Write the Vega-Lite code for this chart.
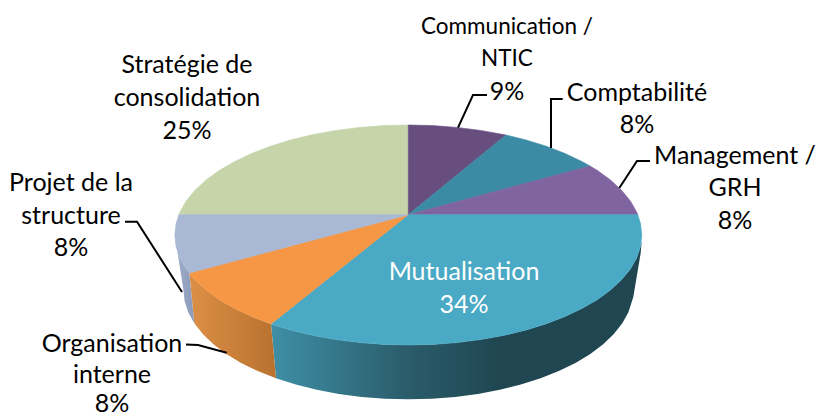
{
"$schema":"https://vega.github.io/schema/vega-lite/v6.json",
"width":817,"height":416,"padding":0,"autosize":{"type":"none"},
"background":"white",
"config":{"view":{"stroke":null},"font":"Lato"},
"datasets":{
"outline":[
{"p":"wallTeal","x":271,"y":324},{"p":"wallTeal","x":291.5,"y":330.3},{"p":"wallTeal","x":313.3,"y":335.5},{"p":"wallTeal","x":336.1,"y":339.6},{"p":"wallTeal","x":359.8,"y":342.6},{"p":"wallTeal","x":383.9,"y":344.4},{"p":"wallTeal","x":408.3,"y":345},{"p":"wallTeal","x":432.7,"y":344.4},{"p":"wallTeal","x":456.8,"y":342.6},{"p":"wallTeal","x":480.5,"y":339.6},{"p":"wallTeal","x":503.3,"y":335.5},{"p":"wallTeal","x":525.1,"y":330.3},{"p":"wallTeal","x":545.6,"y":324},{"p":"wallTeal","x":564.5,"y":316.7},{"p":"wallTeal","x":581.8,"y":308.6},{"p":"wallTeal","x":597.2,"y":299.7},{"p":"wallTeal","x":610.5,"y":290},{"p":"wallTeal","x":621.6,"y":279.7},{"p":"wallTeal","x":630.4,"y":269},{"p":"wallTeal","x":636.7,"y":257.9},{"p":"wallTeal","x":640.5,"y":246.5},{"p":"wallTeal","x":641.8,"y":240},{"p":"wallTeal","x":640.7,"y":253},{"p":"wallTeal","x":633.3,"y":297},{"p":"wallTeal","x":628.4,"y":312.2},{"p":"wallTeal","x":622.3,"y":323.3},{"p":"wallTeal","x":613.8,"y":334},{"p":"wallTeal","x":603.2,"y":344.3},{"p":"wallTeal","x":590.3,"y":354},{"p":"wallTeal","x":575.5,"y":362.9},{"p":"wallTeal","x":558.8,"y":371},{"p":"wallTeal","x":540.6,"y":378.3},{"p":"wallTeal","x":520.8,"y":384.6},{"p":"wallTeal","x":499.8,"y":389.8},{"p":"wallTeal","x":477.8,"y":393.9},{"p":"wallTeal","x":455.1,"y":396.9},{"p":"wallTeal","x":431.8,"y":398.7},{"p":"wallTeal","x":408.3,"y":399.3},{"p":"wallTeal","x":384.8,"y":398.7},{"p":"wallTeal","x":361.5,"y":396.9},{"p":"wallTeal","x":338.8,"y":393.9},{"p":"wallTeal","x":316.8,"y":389.8},{"p":"wallTeal","x":295.8,"y":384.6},{"p":"wallTeal","x":276,"y":378.3},{"p":"wallTeal","x":271,"y":324},
{"p":"wallOrange","x":189.3,"y":273},{"p":"wallOrange","x":195,"y":279.7},{"p":"wallOrange","x":206.1,"y":290},{"p":"wallOrange","x":219.4,"y":299.7},{"p":"wallOrange","x":234.8,"y":308.6},{"p":"wallOrange","x":252.1,"y":316.7},{"p":"wallOrange","x":271,"y":324},{"p":"wallOrange","x":276,"y":378.3},{"p":"wallOrange","x":257.8,"y":371},{"p":"wallOrange","x":241.1,"y":362.9},{"p":"wallOrange","x":226.3,"y":354},{"p":"wallOrange","x":213.4,"y":344.3},{"p":"wallOrange","x":202.8,"y":334},{"p":"wallOrange","x":194.3,"y":323.3},{"p":"wallOrange","x":189.3,"y":273},
{"p":"wallBlue","x":174.8,"y":235},{"p":"wallBlue","x":176.1,"y":246.5},{"p":"wallBlue","x":179.9,"y":257.9},{"p":"wallBlue","x":186.2,"y":269},{"p":"wallBlue","x":189.3,"y":273},{"p":"wallBlue","x":194.3,"y":323.3},{"p":"wallBlue","x":188.2,"y":312.2},{"p":"wallBlue","x":184.5,"y":300.8},{"p":"wallBlue","x":183.3,"y":289.3},{"p":"wallBlue","x":174.8,"y":235},
{"p":"Stratégie de consolidation","x":408.3,"y":214.7},{"p":"Stratégie de consolidation","x":178.9,"y":214.7},{"p":"Stratégie de consolidation","x":179.9,"y":212.1},{"p":"Stratégie de consolidation","x":186.2,"y":201},{"p":"Stratégie de consolidation","x":195,"y":190.3},{"p":"Stratégie de consolidation","x":206.1,"y":180},{"p":"Stratégie de consolidation","x":219.4,"y":170.3},{"p":"Stratégie de consolidation","x":234.8,"y":161.4},{"p":"Stratégie de consolidation","x":252.1,"y":153.3},{"p":"Stratégie de consolidation","x":271,"y":146},{"p":"Stratégie de consolidation","x":291.5,"y":139.7},{"p":"Stratégie de consolidation","x":313.3,"y":134.5},{"p":"Stratégie de consolidation","x":336.1,"y":130.4},{"p":"Stratégie de consolidation","x":359.8,"y":127.4},{"p":"Stratégie de consolidation","x":383.9,"y":125.6},{"p":"Stratégie de consolidation","x":408.3,"y":125},{"p":"Stratégie de consolidation","x":408.3,"y":214.7},
{"p":"Communication / NTIC","x":408.3,"y":214.7},{"p":"Communication / NTIC","x":408.3,"y":125},{"p":"Communication / NTIC","x":432.7,"y":125.6},{"p":"Communication / NTIC","x":456.8,"y":127.4},{"p":"Communication / NTIC","x":480.5,"y":130.4},{"p":"Communication / NTIC","x":506,"y":135},{"p":"Communication / NTIC","x":408.3,"y":214.7},
{"p":"Comptabilité","x":408.3,"y":214.7},{"p":"Comptabilité","x":506,"y":135},{"p":"Comptabilité","x":525.1,"y":139.7},{"p":"Comptabilité","x":545.6,"y":146},{"p":"Comptabilité","x":564.5,"y":153.3},{"p":"Comptabilité","x":581.8,"y":161.4},{"p":"Comptabilité","x":590,"y":166},{"p":"Comptabilité","x":408.3,"y":214.7},
{"p":"Management / GRH","x":408.3,"y":214.7},{"p":"Management / GRH","x":590,"y":166},{"p":"Management / GRH","x":597.2,"y":170.3},{"p":"Management / GRH","x":610.5,"y":180},{"p":"Management / GRH","x":621.6,"y":190.3},{"p":"Management / GRH","x":630.4,"y":201},{"p":"Management / GRH","x":636.7,"y":212.1},{"p":"Management / GRH","x":637.8,"y":214.7},{"p":"Management / GRH","x":408.3,"y":214.7},
{"p":"Mutualisation","x":408.3,"y":214.7},{"p":"Mutualisation","x":637.8,"y":214.7},{"p":"Mutualisation","x":640.5,"y":223.5},{"p":"Mutualisation","x":641.8,"y":235},{"p":"Mutualisation","x":640.5,"y":246.5},{"p":"Mutualisation","x":636.7,"y":257.9},{"p":"Mutualisation","x":630.4,"y":269},{"p":"Mutualisation","x":621.6,"y":279.7},{"p":"Mutualisation","x":610.5,"y":290},{"p":"Mutualisation","x":597.2,"y":299.7},{"p":"Mutualisation","x":581.8,"y":308.6},{"p":"Mutualisation","x":564.5,"y":316.7},{"p":"Mutualisation","x":545.6,"y":324},{"p":"Mutualisation","x":525.1,"y":330.3},{"p":"Mutualisation","x":503.3,"y":335.5},{"p":"Mutualisation","x":480.5,"y":339.6},{"p":"Mutualisation","x":456.8,"y":342.6},{"p":"Mutualisation","x":432.7,"y":344.4},{"p":"Mutualisation","x":408.3,"y":345},{"p":"Mutualisation","x":383.9,"y":344.4},{"p":"Mutualisation","x":359.8,"y":342.6},{"p":"Mutualisation","x":336.1,"y":339.6},{"p":"Mutualisation","x":313.3,"y":335.5},{"p":"Mutualisation","x":291.5,"y":330.3},{"p":"Mutualisation","x":271,"y":324},{"p":"Mutualisation","x":408.3,"y":214.7},
{"p":"Organisation interne","x":408.3,"y":214.7},{"p":"Organisation interne","x":271,"y":324},{"p":"Organisation interne","x":252.1,"y":316.7},{"p":"Organisation interne","x":234.8,"y":308.6},{"p":"Organisation interne","x":219.4,"y":299.7},{"p":"Organisation interne","x":206.1,"y":290},{"p":"Organisation interne","x":195,"y":279.7},{"p":"Organisation interne","x":189.3,"y":273},{"p":"Organisation interne","x":408.3,"y":214.7},
{"p":"Projet de la structure","x":408.3,"y":214.7},{"p":"Projet de la structure","x":189.3,"y":273},{"p":"Projet de la structure","x":186.2,"y":269},{"p":"Projet de la structure","x":179.9,"y":257.9},{"p":"Projet de la structure","x":176.1,"y":246.5},{"p":"Projet de la structure","x":174.8,"y":235},{"p":"Projet de la structure","x":176.1,"y":223.5},{"p":"Projet de la structure","x":178.9,"y":214.7},{"p":"Projet de la structure","x":408.3,"y":214.7}
],
"leaders":[
{"l":"comm","x":487,"y":95},{"l":"comm","x":473,"y":95},{"l":"comm","x":458,"y":127.7},
{"l":"compta","x":562.7,"y":99},{"l":"compta","x":551,"y":99},{"l":"compta","x":551,"y":148},
{"l":"mgmt","x":650,"y":161},{"l":"mgmt","x":637,"y":161},{"l":"mgmt","x":619.3,"y":188},
{"l":"projet","x":125,"y":221.7},{"l":"projet","x":137,"y":221.7},{"l":"projet","x":182,"y":292},
{"l":"orga","x":186,"y":344.5},{"l":"orga","x":198,"y":345},{"l":"orga","x":226.7,"y":352.7}
],
"labels":[
{"t":"Stratégie de","x":187,"y":65,"c":"k"},{"t":"consolidation","x":187,"y":98,"c":"k"},{"t":"25%","x":187,"y":131,"c":"k"},
{"t":"Communication /","x":507,"y":27,"c":"s"},{"t":"NTIC","x":507,"y":59,"c":"s"},{"t":"9%","x":507,"y":92,"c":"k"},
{"t":"Comptabilité","x":637,"y":93,"c":"k"},{"t":"8%","x":637,"y":125,"c":"k"},
{"t":"Management /","x":735,"y":156,"c":"k"},{"t":"GRH","x":735,"y":188,"c":"k"},{"t":"8%","x":735,"y":221,"c":"k"},
{"t":"Projet de la","x":71,"y":183,"c":"k"},{"t":"structure","x":71,"y":216,"c":"k"},{"t":"8%","x":71,"y":248,"c":"k"},
{"t":"Organisation","x":112,"y":344,"c":"k"},{"t":"interne","x":112,"y":375,"c":"k"},{"t":"8%","x":112,"y":403.5,"c":"k"},
{"t":"Mutualisation","x":464,"y":272,"c":"w"},{"t":"34%","x":464,"y":305,"c":"w"}
]
},
"encoding":{
"x":{"field":"x","type":"quantitative","scale":{"domain":[0,817],"nice":false,"zero":false},"axis":null},
"y":{"field":"y","type":"quantitative","scale":{"domain":[416,0],"nice":false,"zero":false},"axis":null}
},
"layer":[
{"data":{"name":"outline"},"transform":[{"filter":"datum.p==='wallTeal'"}],
 "mark":{"type":"line","interpolate":"linear","strokeWidth":0,"fill":{"gradient":"linear","x1":0,"y1":0,"x2":1,"y2":0,"stops":[{"offset":0,"color":"#3f8fa6"},{"offset":0.38,"color":"#2a5b69"},{"offset":0.62,"color":"#1f4651"},{"offset":1,"color":"#1f4651"}]}},
 "encoding":{"order":{"value":null}}},
{"data":{"name":"outline"},"transform":[{"filter":"datum.p==='wallOrange'"}],
 "mark":{"type":"line","interpolate":"linear","strokeWidth":0,"fill":{"gradient":"linear","x1":0,"y1":0,"x2":1,"y2":0,"stops":[{"offset":0,"color":"#dc8f46"},{"offset":1,"color":"#b8722f"}]}},
 "encoding":{"order":{"value":null}}},
{"data":{"name":"outline"},"transform":[{"filter":"datum.p==='wallBlue'"}],
 "mark":{"type":"line","interpolate":"linear","strokeWidth":0,"fill":{"gradient":"linear","x1":0,"y1":0,"x2":1,"y2":0,"stops":[{"offset":0,"color":"#a0aecb"},{"offset":1,"color":"#8b9ab8"}]}},
 "encoding":{"order":{"value":null}}},
{"data":{"name":"outline"},"transform":[{"filter":"indexof(datum.p,'wall')!==0"}],
 "mark":{"type":"line","interpolate":"linear","strokeWidth":0.6},
 "encoding":{"order":{"value":null},"detail":{"field":"p"},
  "fill":{"field":"p","type":"nominal","legend":null,"scale":{"domain":["Stratégie de consolidation","Communication / NTIC","Comptabilité","Management / GRH","Mutualisation","Organisation interne","Projet de la structure"],"range":["#c5d4a9","#674e7f","#3b8ba4","#8064a0","#4aa9c4","#f59745","#a8b8d5"]}},
  "stroke":{"field":"p","type":"nominal","legend":null,"scale":{"domain":["Stratégie de consolidation","Communication / NTIC","Comptabilité","Management / GRH","Mutualisation","Organisation interne","Projet de la structure"],"range":["#c5d4a9","#674e7f","#3b8ba4","#8064a0","#4aa9c4","#f59745","#a8b8d5"]}}}},
{"data":{"name":"leaders"},"mark":{"type":"line","color":"black","strokeWidth":2,"interpolate":"linear"},
 "encoding":{"detail":{"field":"l"},"order":{"value":null}}},
{"data":{"name":"labels"},"transform":[{"filter":"datum.c==='k'"}],"mark":{"type":"text","font":"Lato","fontSize":25,"align":"center","baseline":"middle","color":"#000000"},"encoding":{"text":{"field":"t"}}},
{"data":{"name":"labels"},"transform":[{"filter":"datum.c==='s'"}],"mark":{"type":"text","font":"Lato","fontSize":22.5,"align":"center","baseline":"middle","color":"#000000"},"encoding":{"text":{"field":"t"}}},
{"data":{"name":"labels"},"transform":[{"filter":"datum.c==='w'"}],"mark":{"type":"text","font":"Lato","fontSize":25,"align":"center","baseline":"middle","color":"#ffffff"},"encoding":{"text":{"field":"t"}}}
]
}
